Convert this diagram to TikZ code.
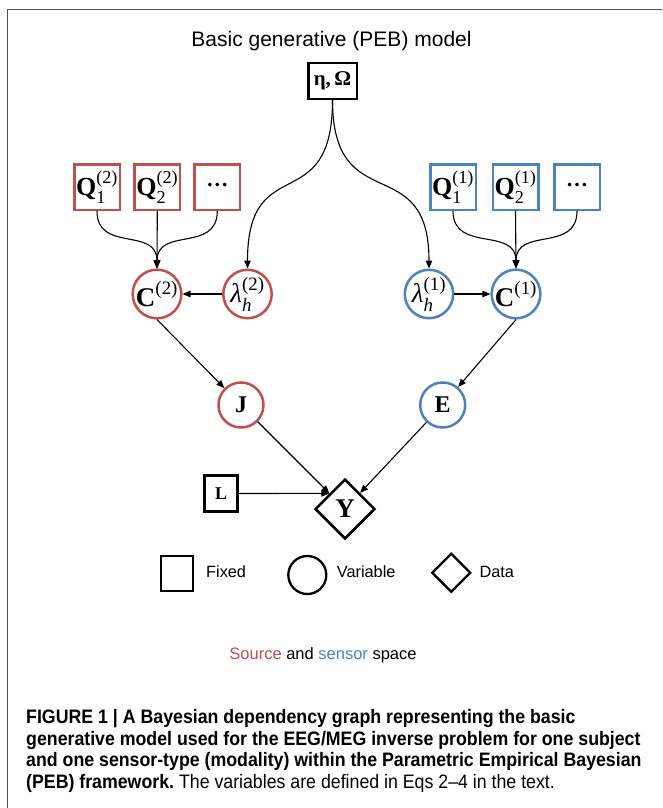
\documentclass[tikz,border=0pt]{standalone}
\usepackage{fontspec}
\usepackage{amsmath}
\setmainfont{Liberation Serif}
\newfontfamily\sansf{Liberation Sans}
\newfontfamily\capf[FakeStretch=0.91]{Liberation Sans}
\usetikzlibrary{shapes.geometric,arrows.meta}
\definecolor{srcred}{HTML}{C0504D}
\definecolor{senblue}{HTML}{4F81BD}
\definecolor{framegray}{HTML}{505050}
\newcommand{\qsym}[2]{$\text{\bfseries Q}_{\text{#1}}^{\text{(#2)}}$}
\newcommand{\csym}[1]{$\text{\bfseries C}^{\text{(#1)}}$}
\newcommand{\lsym}[1]{$\text{\itshape λ}_{\text{\itshape h}}^{\text{(#1)}}$}
\newcommand{\dotsym}{\raisebox{4pt}{\bfseries\fontsize{22}{22}\selectfont …}}
\begin{document}
\begin{tikzpicture}[x=1pt,y=-1pt,
  fixedbox/.style={draw, line width=2.5pt, rectangle, inner sep=0pt, minimum width=45.5, minimum height=45.5, font=\fontsize{26}{26}\selectfont},
  varnode/.style={draw, line width=2.5pt, circle, inner sep=0pt, minimum size=45, font=\fontsize{27}{27}\selectfont},
  conn/.style={line width=1.1pt, -{Triangle[length=8pt,width=6.5pt]}},
  legtext/.style={anchor=base west, font=\sansf\fontsize{16.3}{18}\selectfont, inner sep=0pt},
  capline/.style={anchor=base west, font=\capf\bfseries\fontsize{19.5}{21}\selectfont, inner sep=0pt}
]
\useasboundingbox (0,0) rectangle (662,808);
\fill[white] (0,0) rectangle (662,808);
\draw[framegray, line width=1.8pt] (7.5,808) -- (7.5,9.5) -- (662,9.5);

\node[anchor=base, font=\sansf\fontsize{21}{25}\selectfont, inner sep=0pt] (title) at (331.5,46.7) {Basic generative (PEB) model};

% hyperparameters
\node[draw, line width=2.5pt, inner sep=0pt, minimum width=48.5, minimum height=35.5, font=\bfseries\fontsize{21}{21}\selectfont] (eta) at (332.5,81) {η,\,Ω};

% source space (red)
\node[fixedbox, srcred] (q1s) at (97,187) {\color{black}\qsym{1}{2}};
\node[fixedbox, srcred] (q2s) at (157.3,187) {\color{black}\qsym{2}{2}};
\node[fixedbox, srcred] (qds) at (217.3,187) {\color{black}\dotsym};
\node[varnode, srcred] (c2) at (157,294) {\color{black}\csym{2}};
\node[varnode, srcred] (l2) at (247.5,294) {\color{black}\lsym{2}};
\node[varnode, srcred, font=\bfseries\fontsize{24}{24}\selectfont] (J) at (241,405) {\color{black}J};

% sensor space (blue)
\node[fixedbox, senblue] (q1b) at (453,187) {\color{black}\qsym{1}{1}};
\node[fixedbox, senblue] (q2b) at (515.5,187) {\color{black}\qsym{2}{1}};
\node[fixedbox, senblue] (qdb) at (577,187) {\color{black}\dotsym};
\node[varnode, senblue] (c1) at (516,294) {\color{black}\csym{1}};
\node[varnode, senblue] (l1) at (429,294) {\color{black}\lsym{1}};
\node[varnode, senblue, font=\bfseries\fontsize{24}{24}\selectfont] (E) at (442.7,405) {\color{black}E};

% lead field and data
\node[draw, line width=2.3pt, inner sep=0pt, minimum width=33, minimum height=36, font=\bfseries\fontsize{18}{18}\selectfont] (L) at (221,493.5) {L};
\node[draw, line width=2.5pt, diamond, inner sep=0pt, minimum width=60, minimum height=60, font=\bfseries\fontsize{27}{27}\selectfont] (Y) at (345,509) {Y};

% connectors
\draw[conn] (eta.south) .. controls +(0,120) and +(0,-120) .. (l2.north);
\draw[conn] (eta.south) .. controls +(0,120) and +(0,-120) .. (l1.north);
\draw[conn] (q1s.south) .. controls +(0,42) and +(0,-42) .. (c2.north);
\draw[conn] (q2s.south) -- (c2.north);
\draw[conn] (qds.south) .. controls +(0,42) and +(0,-42) .. (c2.north);
\draw[conn] (q1b.south) .. controls +(0,42) and +(0,-42) .. (c1.north);
\draw[conn] (q2b.south) -- (c1.north);
\draw[conn] (qdb.south) .. controls +(0,42) and +(0,-42) .. (c1.north);
\draw[conn] (l2) -- (c2);
\draw[conn] (l1) -- (c1);
\draw[conn] (c2.south) -- (J);
\draw[conn] (c1.south) -- (E);
\draw[conn] (J) -- (Y);
\draw[conn] (E) -- (Y);
\draw[conn] (L.east) -- (Y.north west);

% legend
\node[draw, line width=2.3pt, inner sep=0pt, minimum width=32, minimum height=35] (lgfix) at (177,573.7) {};
\node[legtext] (lgfixt) at (206,577.5) {Fixed};
\node[draw, line width=2.3pt, circle, inner sep=0pt, minimum size=38] (lgvar) at (307.3,575) {};
\node[legtext] (lgvart) at (336.7,577.5) {Variable};
\node[draw, line width=2.3pt, diamond, inner sep=0pt, minimum width=39, minimum height=39] (lgdat) at (451.2,572.7) {};
\node[legtext] (lgdatt) at (479.3,577.5) {Data};

\node[anchor=base, font=\sansf\fontsize{16.5}{18}\selectfont, inner sep=0pt] (space) at (323,659.3) {\textcolor{srcred}{Source} and \textcolor{senblue}{sensor} space};

% caption
\node[capline] (cap1) at (26,723.5) {FIGURE 1 | A Bayesian dependency graph representing the basic};
\node[capline] (cap2) at (26,745) {generative model used for the EEG/MEG inverse problem for one subject};
\node[capline] (cap3) at (26,766.5) {and one sensor-type (modality) within the Parametric Empirical Bayesian};
\node[capline] (cap4) at (26,788) {(PEB) framework.\mdseries\ The variables are defined in Eqs 2–4 in the text.};
\end{tikzpicture}
\end{document}
